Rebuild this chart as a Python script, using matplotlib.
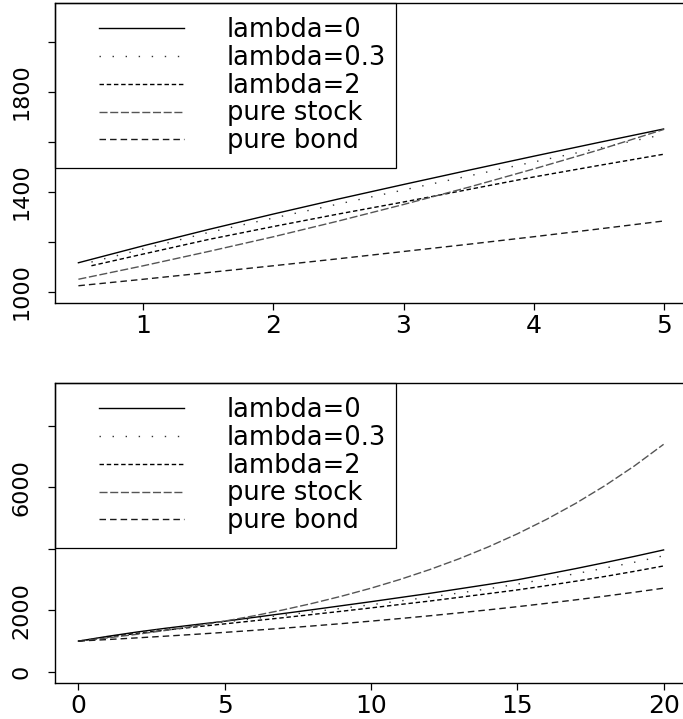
import numpy as np
import matplotlib
matplotlib.use("Agg")
import matplotlib.pyplot as plt
from matplotlib.patches import Rectangle

plt.rcParams['font.family'] = ['DejaVu Sans']

labels = ['lambda=0', 'lambda=0.3', 'lambda=2', 'pure stock', 'pure bond']

# short horizon (0.5 to 5 years)
t_top = [0.5, 1.0, 1.5, 2.0, 2.5, 3.0, 3.5, 4.0, 4.5, 5.0]
t_top_lam = [0.6, 1.0, 1.5, 2.0, 2.5, 3.0, 3.5, 4.0, 4.5, 5.0]
lam0_top = [1117, 1185, 1250, 1312, 1372, 1430, 1487, 1543, 1598, 1652]
lam03_top = [1120, 1172, 1238, 1296, 1352, 1408, 1464, 1520, 1575, 1630]
lam2_top = [1105, 1152, 1210, 1262, 1312, 1360, 1410, 1460, 1506, 1551]
stock_top = [1051, 1105, 1162, 1221, 1284, 1350, 1419, 1492, 1568, 1650]
bond_top = [1025, 1051, 1078, 1105, 1133, 1162, 1191, 1221, 1252, 1284]

# long horizon (0 to 20 years)
t_bot = list(range(21))
lam0_bot = [1000, 1155, 1295, 1420, 1535, 1645, 1770, 1895, 2020, 2150, 2280,
            2415, 2550, 2695, 2840, 2990, 3170, 3355, 3550, 3750, 3960]
lam03_bot = [1000, 1150, 1285, 1405, 1515, 1620, 1730, 1840, 1950, 2065, 2180,
             2305, 2430, 2560, 2700, 2850, 3020, 3190, 3370, 3560, 3770]
lam2_bot = [1000, 1130, 1250, 1360, 1460, 1560, 1660, 1760, 1865, 1970, 2078,
            2190, 2300, 2420, 2540, 2662, 2800, 2945, 3100, 3265, 3440]
stock_bot = [1000, 1105, 1221, 1350, 1492, 1649, 1822, 2014, 2226, 2460, 2718,
             3004, 3320, 3669, 4055, 4482, 4953, 5474, 6050, 6686, 7389]
bond_bot = [1000, 1051, 1105, 1162, 1221, 1284, 1350, 1419, 1492, 1568, 1649,
            1733, 1822, 1916, 2014, 2117, 2226, 2340, 2460, 2586, 2718]

yt_top = [1000, 1200, 1400, 1600, 1800, 2000]
ytl_top = ['1000', '', '1400', '', '1800', '']
xt_top = [1, 2, 3, 4, 5]
yt_bot = [0, 2000, 4000, 6000, 8000]
ytl_bot = ['0', '2000', '', '6000', '']
xt_bot = [0, 5, 10, 15, 20]

styles = [
    dict(color='black', linestyle='-'),
    dict(color='#333333', linestyle=(0, (1.0, 8.4))),
    dict(color='black', linestyle=(0, (3.2, 2.0))),
    dict(color='#555555', linestyle=(0, (5.8, 1.9))),
    dict(color='#1a1a1a', linestyle=(0, (4.7, 2.9))),
]

fig = plt.figure(figsize=(6.83, 7.19), dpi=100)
W, H = 683, 719
ax1 = fig.add_axes([55 / W, 1 - 303 / H, 632 / W, 300 / H])
ax2 = fig.add_axes([55 / W, 1 - 683 / H, 632 / W, 300 / H])


def panel(ax, xs, series, xlim, ylim, xt, yt, ytl):
    for x, y, st, lab in zip(xs, series, styles, labels):
        ax.plot(x, y, lw=1.0, label=lab, **st)
    ax.set_xlim(*xlim)
    ax.set_ylim(*ylim)
    ax.set_xticks(xt)
    ax.set_xticklabels([str(v) for v in xt])
    ax.set_yticks(yt)
    ax.set_yticklabels(ytl, rotation=90, va='center')
    ax.tick_params(axis='both', length=5, width=0.9, direction='out')
    ax.tick_params(axis='x', pad=3, labelsize=18)
    ax.tick_params(axis='y', pad=12, labelsize=16)
    for s in ax.spines.values():
        s.set_linewidth(1.0)
    ax.add_patch(Rectangle((0, 1), 0.539, -0.55, transform=ax.transAxes,
                           fill=False, ec='black', lw=0.9, clip_on=False, zorder=5))
    ax.legend(loc='upper left', bbox_to_anchor=(0.0696, 0.953), frameon=False,
              borderpad=0, borderaxespad=0, fontsize=18.5, handlelength=3.3,
              handletextpad=1.67, labelspacing=0.07)


panel(ax1, [t_top, t_top_lam, t_top_lam, t_top, t_top],
      [lam0_top, lam03_top, lam2_top, stock_top, bond_top],
      (0.32, 5.18), (956, 2156), xt_top, yt_top, ytl_top)
panel(ax2, [t_bot] * 5,
      [lam0_bot, lam03_bot, lam2_bot, stock_bot, bond_bot],
      (-0.8, 20.8), (-360, 9380), xt_bot, yt_bot, ytl_bot)

fig.savefig('out.png', dpi=100)
